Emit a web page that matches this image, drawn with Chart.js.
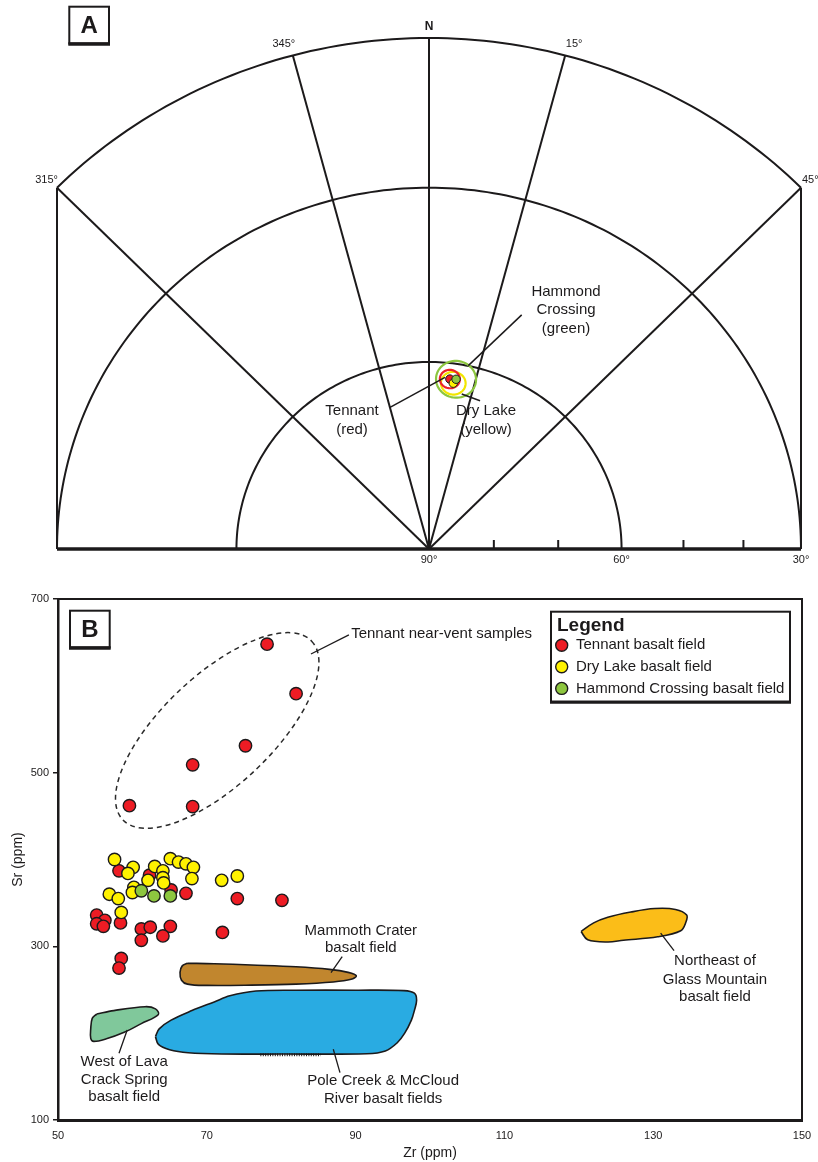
<!DOCTYPE html>
<html>
<head>
<meta charset="utf-8">
<script src="https://cdn.jsdelivr.net/npm/chart.js@4.4.0/dist/chart.umd.min.js"></script>
<style>
  html, body { margin: 0; padding: 0; background: #ffffff; }
  #wrap { position: relative; width: 818px; height: 1162px; }
  canvas { position: absolute; left: 0; }
  #polar { top: 0; }
  #scatter { top: 578px; }
</style>
</head>
<body>
<div id="wrap">
  <canvas id="polar" width="818" height="578"></canvas>
  <canvas id="scatter" width="818" height="584"></canvas>
</div>
<script>
// ---------- Panel A: mean palaeomagnetic directions (equal-area, lower hemisphere) ----------
const fieldNames = ['Tennant', 'Dry Lake', 'Hammond Crossing'];
const meanDec = [6.8, 8.1, 8.8];      // declination, degrees
const meanInc = [62.6, 63.2, 62.5];   // inclination, degrees
const alpha95 = [1.5, 1.85, 3.0];     // 95% confidence cone, degrees

const gridDecs = [315, 345, 0, 15, 45];
const gridDecLabels = ['315°', '345°', 'N', '15°', '45°'];
const gridIncs = [60, 30];
const incTicks = [80, 70, 50, 40];
const incLabels = [90, 60, 30];

// ---------- Panel B: Zr vs Sr ----------
const tennantZr = [78.1, 82.0, 75.2, 68.1, 59.6, 68.1,
  58.2, 62.3, 65.2, 67.2, 55.2, 56.3, 55.2, 56.1, 58.4, 61.2, 62.4, 61.2, 65.1, 64.1,
  58.5, 58.2, 74.1, 80.1, 72.1];
const tennantSr = [648, 591, 531, 509, 462, 461,
  387, 382, 365, 361, 336, 330, 326, 323, 327, 320, 322, 307, 323, 312,
  286, 275, 355, 353, 316];

const dryLakeZr = [57.6, 60.1, 59.4, 63.0, 65.1, 66.2, 67.2, 68.2, 68.0, 64.1,
  64.1, 64.2, 62.1, 60.2, 60.0, 56.9, 58.1, 58.5, 72.0, 74.1];
const dryLakeSr = [400, 391, 384, 392, 401, 397, 395, 391, 378, 387,
  379, 373, 376, 368, 362, 360, 355, 339, 376, 381];

const hammondZr = [61.2, 62.9, 65.1];
const hammondSr = [364, 358, 358];

// outlines of other basalt fields, [Zr, Sr]
const poleCreekOutline = [[63.1, 196], [63.6, 205], [65.2, 215], [68, 226], [71, 236], [73.1, 243],
  [76.6, 248.5], [82, 249.5], [90, 249.5], [96.5, 249], [97.9, 246], [98.2, 238], [97.9, 226],
  [97.5, 215], [96.6, 200], [95.6, 189], [94, 179.5], [91.5, 176.3], [80, 176], [72, 176],
  [67.5, 177.5], [65, 181], [63.5, 187]];
const mammothOutline = [[67.4, 280.5], [71, 280], [76, 278.5], [82, 276.5], [86.5, 273.5], [89, 270],
  [90.1, 266], [89.4, 262], [87, 259], [82, 256.5], [76, 255.3], [70, 255], [67.4, 256.5],
  [66.6, 261], [66.4, 270], [66.7, 277.5]];
const westLavaOutline = [[55.2, 222], [57.5, 226], [61.7, 230.5], [63.1, 228], [63.5, 221.5],
  [61.2, 211], [58.9, 201], [56.5, 193.5], [54.8, 190.5], [54.4, 194], [54.4, 205], [54.6, 217]];
const glassMtnOutline = [[120.3, 317], [122, 327], [123.9, 333.5], [127, 339.5], [130.2, 343.5],
  [133, 342.5], [134.5, 336], [134.4, 328], [133.7, 318], [130.6, 311], [126, 307], [123.9, 305],
  [121.2, 307.5]];

const xTickMin = 50, xTickMax = 150, xTickStep = 20;
const yTickMin = 100, yTickMax = 700, yTickStep = 200;

// ---------- shared helpers ----------
const FONT = "'Liberation Sans', Arial, Helvetica, sans-serif";
Chart.defaults.font.family = FONT;
const INK = '#1c1a1b';
const RED = '#ed1c24', YELLOW = '#fff200', GREEN = '#8dc63f';
const RAD = Math.PI / 180;

// Lambert equal-area: radius 1 at the horizon, 0 at vertical
function project(dec, inc) {
  const r = Math.SQRT2 * Math.sin((90 - inc) / 2 * RAD);
  return { x: r * Math.sin(dec * RAD), y: r * Math.cos(dec * RAD) };
}

// small circle of radius a95 around a direction, projected
function coneOutline(dec, inc, a95) {
  const D = dec * RAD, I = inc * RAD, A = a95 * RAD;
  const m = [Math.cos(I) * Math.cos(D), Math.cos(I) * Math.sin(D), Math.sin(I)];
  const u = [-Math.sin(I) * Math.cos(D), -Math.sin(I) * Math.sin(D), Math.cos(I)];
  const v = [-Math.sin(D), Math.cos(D), 0];
  const pts = [];
  for (let t = 0; t <= 360; t += 6) {
    const c = Math.cos(t * RAD), s = Math.sin(t * RAD);
    const p = [0, 1, 2].map(k => Math.cos(A) * m[k] + Math.sin(A) * (c * u[k] + s * v[k]));
    const d = Math.atan2(p[1], p[0]) / RAD;
    const i = Math.asin(Math.max(-1, Math.min(1, p[2]))) / RAD;
    pts.push(project(d, i));
  }
  return pts;
}

function panelTag(ctx, left, top, w, h, letter) {
  ctx.save();
  ctx.fillStyle = '#ffffff';
  ctx.fillRect(left, top, w, h);
  ctx.strokeStyle = INK;
  ctx.lineWidth = 2;
  ctx.strokeRect(left, top, w, h);
  ctx.lineWidth = 3.5;
  ctx.beginPath();
  ctx.moveTo(left - 1, top + h + 0.5);
  ctx.lineTo(left + w + 1, top + h + 0.5);
  ctx.stroke();
  ctx.fillStyle = INK;
  ctx.font = 'bold 24px ' + FONT;
  ctx.textAlign = 'center';
  ctx.textBaseline = 'middle';
  ctx.fillText(letter, left + w / 2, top + h / 2 + 1.5);
  ctx.restore();
}

// ---------- Panel A chart ----------
const fieldColors = [RED, YELLOW, GREEN];
const coneColors = ['#ec2128', '#f2e600', '#8cc63f'];

const siteNotes = [
  { lines: ['Hammond', 'Crossing', '(green)'], x: 0.2605, ys: [0.504, 0.468, 0.431],
    leader: [[0.0747, 0.3588], [0.1762, 0.4582]] },
  { lines: ['Tennant', '(red)'], x: -0.1464, ys: [0.2706, 0.2333],
    leader: [[-0.0741, 0.2771], [0.0304, 0.3359]] },
  { lines: ['Dry Lake', '(yellow)'], x: 0.1084, ys: [0.2706, 0.2333],
    leader: [[0.0622, 0.3033], [0.0970, 0.2902]] }
];
const decLabelPlacement = [
  { dx: 1, dy: -2, align: 'right' },
  { dx: -9, dy: -6, align: 'center' },
  { dx: 0, dy: -5, align: 'center' },
  { dx: 9, dy: -6, align: 'center' },
  { dx: 1, dy: -2, align: 'left' }
];

const stereonetFrame = {
  id: 'stereonetFrame',
  beforeDatasetsDraw(chart) {
    const { ctx, scales: { x, y } } = chart;
    const P = p => [x.getPixelForValue(p.x), y.getPixelForValue(p.y)];
    const path = pts => {
      ctx.beginPath();
      pts.forEach((p, i) => { const [px, py] = P(p); if (i) ctx.lineTo(px, py); else ctx.moveTo(px, py); });
      ctx.stroke();
    };
    ctx.save();
    ctx.strokeStyle = INK;
    ctx.lineWidth = 2;
    ctx.lineJoin = 'round';

    // circles of constant inclination
    gridIncs.forEach(inc => {
      const pts = [];
      for (let a = -90; a <= 90; a += 1) pts.push(project(a, inc));
      path(pts);
    });
    // horizon between the outermost declinations
    const rim = [];
    for (let a = gridDecs[0] - 360; a <= gridDecs[gridDecs.length - 1]; a += 1) rim.push(project(a, 0));
    path(rim);
    // vertical sides down to the base line
    [gridDecs[0], gridDecs[gridDecs.length - 1]].forEach(d => {
      const e = project(d, 0);
      path([e, { x: e.x, y: 0 }]);
    });
    // declination spokes
    gridDecs.forEach(d => path([{ x: 0, y: 0 }, project(d, 0)]));
    // base line with inclination ticks
    ctx.lineWidth = 3.5;
    path([{ x: x.min, y: 0 }, { x: x.max, y: 0 }]);
    ctx.lineWidth = 2;
    const y0 = y.getPixelForValue(0);
    incTicks.forEach(inc => {
      const px = x.getPixelForValue(project(90, inc).x);
      ctx.beginPath();
      ctx.moveTo(px, y0);
      ctx.lineTo(px, y0 - 9);
      ctx.stroke();
    });

    // confidence cones
    ctx.lineWidth = 2.2;
    [2, 1, 0].forEach(i => {
      ctx.strokeStyle = coneColors[i];
      const pts = coneOutline(meanDec[i], meanInc[i], alpha95[i]);
      ctx.beginPath();
      pts.forEach((p, k) => { const [px, py] = P(p); if (k) ctx.lineTo(px, py); else ctx.moveTo(px, py); });
      ctx.closePath();
      ctx.stroke();
    });
    ctx.restore();
  },
  afterDatasetsDraw(chart) {
    const { ctx, scales: { x, y } } = chart;
    ctx.save();
    ctx.fillStyle = INK;
    ctx.strokeStyle = INK;

    // declination labels
    ctx.textBaseline = 'bottom';
    gridDecs.forEach((d, i) => {
      const e = project(d, 0);
      const pl = decLabelPlacement[i];
      ctx.font = (gridDecLabels[i] === 'N' ? 'bold 12px ' : '11px ') + FONT;
      ctx.textAlign = pl.align;
      ctx.fillText(gridDecLabels[i], x.getPixelForValue(e.x) + pl.dx, y.getPixelForValue(e.y) + pl.dy);
    });
    // inclination labels under the base line
    ctx.font = '11px ' + FONT;
    ctx.textAlign = 'center';
    ctx.textBaseline = 'middle';
    const y0 = y.getPixelForValue(0);
    incLabels.forEach(inc => {
      ctx.fillText(inc + '°', x.getPixelForValue(project(90, inc).x), y0 + 11);
    });

    // field labels with leaders
    ctx.lineWidth = 1.5;
    ctx.font = '15px ' + FONT;
    siteNotes.forEach(n => {
      ctx.beginPath();
      ctx.moveTo(x.getPixelForValue(n.leader[0][0]), y.getPixelForValue(n.leader[0][1]));
      ctx.lineTo(x.getPixelForValue(n.leader[1][0]), y.getPixelForValue(n.leader[1][1]));
      ctx.stroke();
      n.lines.forEach((t, k) => ctx.fillText(t, x.getPixelForValue(n.x), y.getPixelForValue(n.ys[k])));
    });
    ctx.restore();

    panelTag(ctx, 69.3, 6.7, 39.7, 36.8, 'A');
  }
};

new Chart(document.getElementById('polar'), {
  type: 'scatter',
  data: {
    datasets: fieldNames.map((name, i) => ({
      label: name,
      data: [project(meanDec[i], meanInc[i])],
      backgroundColor: fieldColors[i],
      borderColor: INK,
      borderWidth: 1,
      pointRadius: 4.2,
      order: i === 2 ? 0 : (i === 1 ? 1 : 2)
    }))
  },
  options: {
    responsive: false,
    animation: false,
    events: [],
    layout: { padding: { left: 57, right: 17, top: 38, bottom: 29 } },
    scales: {
      x: { type: 'linear', display: false, min: -Math.SQRT1_2, max: Math.SQRT1_2 },
      y: { type: 'linear', display: false, min: 0, max: 1 }
    },
    plugins: { legend: { display: false }, tooltip: { enabled: false } }
  },
  plugins: [stereonetFrame]
});

// ---------- Panel B chart ----------
const toPoints = (xs, ys) => xs.map((v, i) => ({ x: v, y: ys[i] }));
const closed = arr => { const pts = arr.map(p => ({ x: p[0], y: p[1] })); pts.push({ ...pts[0] }); return pts; };

function fieldArea(label, outline, color, order) {
  return {
    type: 'line', label, data: closed(outline), order,
    backgroundColor: color, borderColor: INK, borderWidth: 1.6,
    fill: 'shape', tension: 0.35, pointRadius: 0, pointHoverRadius: 0
  };
}
function sampleSet(label, xs, ys, color, order) {
  return {
    type: 'scatter', label, data: toPoints(xs, ys), order,
    backgroundColor: color, borderColor: INK, borderWidth: 1.4,
    pointRadius: 6.2, pointHoverRadius: 6.2
  };
}

const areaNotes = [
  { lines: ['Tennant near-vent samples'], x: 89.4, ys: [659.4], align: 'left',
    leader: [[84.0, 636.7], [89.1, 658.6]] },
  { lines: ['Mammoth Crater', 'basalt field'], x: 90.7, ys: [317.7, 298],
    leader: [[86.7, 269.7], [88.2, 288.1]] },
  { lines: ['Northeast of', 'Glass Mountain', 'basalt field'], x: 138.3, ys: [283.2, 261.3, 241.4],
    leader: [[131.0, 315.1], [132.8, 295.1]] },
  { lines: ['West of Lava', 'Crack Spring', 'basalt field'], x: 58.9, ys: [167.2, 146.2, 126.3],
    leader: [[59.3, 203.7], [58.2, 176.9]] },
  { lines: ['Pole Creek & McCloud', 'River basalt fields'], x: 93.7, ys: [145, 124.7],
    leader: [[87.0, 181.5], [87.9, 154.6]] }
];

const plotDecor = {
  id: 'plotDecor',
  beforeDatasetsDraw(chart) {
    const { ctx, scales: { x, y } } = chart;
    ctx.save();
    // dashed envelope round the near-vent samples
    ctx.strokeStyle = '#2a2a2a';
    ctx.lineWidth = 1.5;
    ctx.setLineDash([5, 4]);
    ctx.beginPath();
    ctx.ellipse(x.getPixelForValue(71.4), y.getPixelForValue(548.6), 130, 55, -43.4 * RAD, 0, Math.PI * 2);
    ctx.stroke();
    ctx.restore();
  },
  afterDatasetsDraw(chart) {
    const { ctx, chartArea: ca, scales: { x, y } } = chart;
    ctx.save();
    // hatched strip on the lower edge of the Pole Creek field
    ctx.strokeStyle = INK;
    ctx.lineWidth = 3;
    ctx.setLineDash([1, 1.4]);
    ctx.beginPath();
    ctx.moveTo(x.getPixelForValue(77.2), y.getPixelForValue(175.2));
    ctx.lineTo(x.getPixelForValue(85.3), y.getPixelForValue(175.2));
    ctx.stroke();
    ctx.setLineDash([]);

    // top and right frame
    ctx.lineWidth = 2;
    ctx.beginPath();
    ctx.moveTo(ca.left, ca.top);
    ctx.lineTo(ca.right, ca.top);
    ctx.lineTo(ca.right, ca.bottom);
    ctx.stroke();

    // labels and leaders
    ctx.fillStyle = INK;
    ctx.lineWidth = 1.3;
    ctx.font = '15px ' + FONT;
    ctx.textBaseline = 'middle';
    areaNotes.forEach(n => {
      ctx.beginPath();
      ctx.moveTo(x.getPixelForValue(n.leader[0][0]), y.getPixelForValue(n.leader[0][1]));
      ctx.lineTo(x.getPixelForValue(n.leader[1][0]), y.getPixelForValue(n.leader[1][1]));
      ctx.stroke();
      ctx.textAlign = n.align || 'center';
      n.lines.forEach((t, k) => ctx.fillText(t, x.getPixelForValue(n.x), y.getPixelForValue(n.ys[k])));
    });

    // axis titles
    ctx.font = '14px ' + FONT;
    ctx.textAlign = 'center';
    ctx.fillText('Zr (ppm)', (ca.left + ca.right) / 2, ca.bottom + 33);
    ctx.save();
    ctx.translate(18, (ca.top + ca.bottom) / 2);
    ctx.rotate(-Math.PI / 2);
    ctx.fillText('Sr (ppm)', 0, 0);
    ctx.restore();

    // legend box
    const lw = 239, lh = 90;
    const lx = ca.right - 12 - lw, ly = ca.top + 12.7;
    ctx.fillStyle = '#ffffff';
    ctx.fillRect(lx, ly, lw, lh);
    ctx.strokeStyle = INK;
    ctx.lineWidth = 2;
    ctx.strokeRect(lx, ly, lw, lh);
    ctx.lineWidth = 3;
    ctx.beginPath();
    ctx.moveTo(lx - 1, ly + lh + 0.5);
    ctx.lineTo(lx + lw + 1, ly + lh + 0.5);
    ctx.stroke();
    ctx.fillStyle = INK;
    ctx.textAlign = 'left';
    ctx.font = 'bold 19px ' + FONT;
    ctx.fillText('Legend', lx + 6, ly + 14);
    ctx.font = '15px ' + FONT;
    const entries = chart.data.datasets.filter(d => d.type === 'scatter');
    entries.forEach((d, k) => {
      const cy = ly + 33.5 + k * 21.6;
      ctx.beginPath();
      ctx.arc(lx + 10.7, cy, 6, 0, Math.PI * 2);
      ctx.fillStyle = d.backgroundColor;
      ctx.fill();
      ctx.lineWidth = 1.4;
      ctx.strokeStyle = INK;
      ctx.stroke();
      ctx.fillStyle = INK;
      ctx.fillText(d.label, lx + 25, cy);
    });
    ctx.restore();

    panelTag(ctx, ca.left + 12, ca.top + 11.7, 39.7, 36.8, 'B');
  }
};

new Chart(document.getElementById('scatter'), {
  type: 'scatter',
  data: {
    datasets: [
      sampleSet('Tennant basalt field', tennantZr, tennantSr, RED, 2),
      sampleSet('Dry Lake basalt field', dryLakeZr, dryLakeSr, YELLOW, 1),
      sampleSet('Hammond Crossing basalt field', hammondZr, hammondSr, GREEN, 0),
      fieldArea('Pole Creek & McCloud River basalt fields', poleCreekOutline, '#29abe2', 5),
      fieldArea('Mammoth Crater basalt field', mammothOutline, '#c1862e', 6),
      fieldArea('West of Lava Crack Spring basalt field', westLavaOutline, '#80c89b', 7),
      fieldArea('Northeast of Glass Mountain basalt field', glassMtnOutline, '#fbbd18', 8)
    ]
  },
  options: {
    responsive: false,
    animation: false,
    events: [],
    layout: { padding: { left: 0, right: 16, top: 21, bottom: 0 } },
    scales: {
      x: {
        type: 'linear', min: xTickMin, max: xTickMax,
        ticks: { stepSize: xTickStep, color: INK, font: { size: 11 }, padding: 5 },
        grid: { display: false, tickLength: 4 },
        border: { display: true, color: INK, width: 3 },
        afterFit(scale) { scale.height = 42; }
      },
      y: {
        type: 'linear', min: yTickMin, max: yTickMax,
        ticks: { stepSize: yTickStep, color: INK, font: { size: 11 }, padding: 4 },
        grid: { drawOnChartArea: false, tickLength: 5, color: INK, lineWidth: 1.5 },
        border: { display: true, color: INK, width: 2.5 },
        afterFit(scale) { scale.width = 58; }
      }
    },
    plugins: { legend: { display: false }, tooltip: { enabled: false } }
  },
  plugins: [plotDecor]
});
</script>
</body>
</html>
